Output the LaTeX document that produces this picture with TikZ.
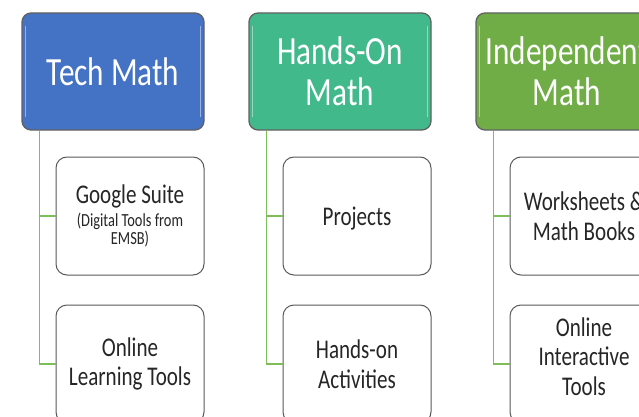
\documentclass[tikz,border=0pt]{standalone}
\usepackage{fontspec}
\setmainfont{Carlito}[FakeStretch=0.78]
\begin{document}
\begin{tikzpicture}[x=1pt,y=-1pt,
  headbox/.style={draw=black!62, line width=1.3pt, rounded corners=9pt,
    minimum width=182pt, minimum height=117pt, text=white, align=center,
    font=\fontsize{40}{41}\selectfont, inner sep=0pt},
  itembox/.style={draw=black!65, line width=1pt, fill=white, rounded corners=11pt,
    minimum width=148pt, minimum height=118pt, align=center,
    font=\fontsize{27}{29.5}\selectfont, inner sep=0pt, text=black!85},
  conn/.style={draw=linkgreen, line width=1.2pt},
  gloss/.style={white, opacity=0.45, line width=1.1pt, line cap=round}
]
\definecolor{techblue}{HTML}{4472C4}
\definecolor{handsgreen}{HTML}{41B98B}
\definecolor{indgreen}{HTML}{70AD47}
\definecolor{linkgreen}{HTML}{7DBE5A}
\useasboundingbox (0,0) rectangle (639,417);

% column headers
\node[headbox, fill=techblue]  (tech)  at (113,71.5) {Tech Math};
\node[headbox, fill=handsgreen] (hands) at (340,71.5) {Hands-On\\Math};
\node[headbox, fill=indgreen]  (indep) at (567,71.5) {Independent\\Math};

% light edge highlights on the headers
\foreach \h in {tech,hands,indep}{
  \draw[gloss] ([shift={(4,14)}]\h.north west) -- ([shift={(4,-14)}]\h.south west);
  \draw[gloss] ([shift={(-4,14)}]\h.north east) -- ([shift={(-4,-14)}]\h.south east);
}

% item boxes
\node[itembox] (t1) at (130,216) {Google Suite\\[-7pt]\fontsize{18.5}{17}\selectfont (Digital Tools from\\[-11pt]\fontsize{18.5}{17}\selectfont EMSB)};
\node[itembox] (t2) at (130,364) {Online\\Learning Tools};
\node[itembox, text depth=0pt] (h1) at (357,216) {Projects};
\node[itembox] (h2) at (357,364) {Hands-on\\Activities};
\node[itembox] (i1) at (584,216) {Worksheets \&\\Math Books};
\node[itembox, text depth=15pt] (i2) at (584,364) {Online\\Interactive\\Tools};

% connectors from each header to its items
\foreach \h/\a/\b in {tech/t1/t2, hands/h1/h2, indep/i1/i2}{
  \coordinate (\h-root) at ([xshift=18pt]\h.south west);
  \draw[conn] (\h-root) |- (\a.west);
  \draw[conn] (\h-root) |- (\b.west);
}
\end{tikzpicture}
\end{document}
